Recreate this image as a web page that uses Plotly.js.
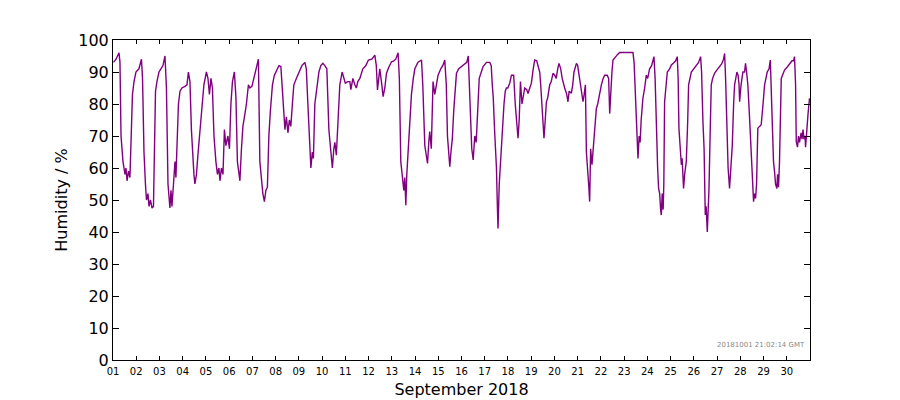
<!DOCTYPE html>
<html>
<head>
<meta charset="utf-8">
<script src="https://cdn.plot.ly/plotly-3.0.1.min.js"></script>
<style>html,body{margin:0;padding:0;background:#fff;}#chart{width:900px;height:400px;}</style>
</head>
<body>
<div id="chart"></div>
<script>
// Hours since 2018-09-01 00:00 GMT
const hours = [0.5,3.1,6.2,7.2,8.3,10.3,12.4,13.4,14.5,16.0,17.5,18.6,20.1,21.7,23.7,26.8,29.4,30.5,32.0,33.5,34.6,36.1,37.2,38.7,40.3,41.8,42.8,43.9,45.4,47.5,49.5,51.6,53.7,55.2,56.8,57.8,58.8,59.9,60.9,62.5,64.0,65.0,66.1,67.6,69.2,71.2,74.3,76.4,77.9,79.5,81.0,82.6,83.6,84.6,86.2,87.7,89.8,91.9,93.9,96.5,98.1,99.6,101.2,102.7,104.3,106.3,107.9,109.4,110.5,112.0,113.6,115.1,116.6,118.7,120.3,121.8,123.4,125.4,127.0,128.5,130.1,131.1,132.7,134.2,136.3,137.8,139.9,141.4,143.5,145.6,147.6,150.2,151.7,153.3,154.8,156.4,157.9,159.5,161.0,162.6,164.7,166.7,169.3,171.4,173.4,175.0,176.0,177.6,179.1,180.7,182.2,183.7,185.3,186.8,189.4,192.0,195.1,198.2,199.7,201.3,202.8,204.4,205.9,207.0,208.5,210.6,212.7,214.7,216.8,218.8,220.9,223.0,225.0,226.6,228.1,229.2,230.7,232.3,234.3,236.7,238.5,240.0,242.6,244.7,245.7,247.8,249.8,251.4,252.9,255.0,258.1,261.2,263.8,267.4,270.5,272.0,273.2,275.6,277.7,279.0,280.8,282.5,284.9,287.7,290.1,292.1,294.5,295.8,297.3,298.9,300.4,301.4,302.5,303.5,304.8,306.6,308.3,310.2,311.8,314.9,318.7,320.0,321.0,322.1,323.1,324.9,326.2,327.2,328.8,330.6,332.4,333.9,335.8,338.6,341.0,342.7,344.3,345.5,346.9,347.9,349.4,350.5,352.0,354.8,357.2,360.0,362.3,365.4,367.0,368.0,369.0,370.6,372.1,373.7,375.2,376.8,378.3,382.3,385.8,389.2,390.7,391.8,392.8,394.3,396.1,396.9,397.7,399.0,400.0,401.3,402.6,403.9,405.2,406.4,407.8,409.8,411.6,413.9,415.5,416.7,418.4,419.6,420.9,422.5,423.8,425.3,427.4,428.7,430.5,432.2,434.1,435.6,437.7,439.2,440.8,441.8,443.6,445.2,446.5,447.7,449.1,451.1,452.7,454.5,456.3,457.8,459.4,460.7,462.5,464.0,466.6,468.7,470.0,471.2,473.5,474.9,476.2,478.7,480.0,482.1,484.1,485.5,486.7,488.0,489.0,490.3,491.4,492.4,493.4,494.8,496.0,496.9,498.1,499.3,500.7,501.7,503.2,504.5,506.3,507.9,510.5,512.0,513.1,514.1,515.4,516.5,518.2,520.0,521.3,523.4,537.1,538.3,538.9,540.6,541.4,542.3,543.5,544.5,545.6,547.4,549.2,550.9,552.3,554.3,556.4,558.8,560.0,561.3,562.6,563.6,564.7,565.7,566.4,567.3,568.3,569.0,569.8,571.4,572.6,575.0,576.8,579.1,581.2,582.9,583.8,584.6,585.8,587.1,587.9,589.4,590.5,592.2,593.6,594.6,597.4,599.8,602.5,604.9,607.0,608.0,609.4,610.6,611.8,612.7,613.9,614.7,615.6,616.8,618.0,619.4,621.4,623.5,626.6,628.7,630.7,631.8,632.8,634.1,635.4,636.9,638.0,638.8,639.7,641.1,642.1,644.5,645.7,646.7,647.3,648.8,650.7,652.4,653.4,654.5,655.8,657.6,659.1,660.4,661.7,662.7,663.8,664.8,666.1,667.9,669.6,671.5,673.1,675.8,677.7,679.0,679.8,681.0,682.3,683.4,684.4,685.8,686.5,687.5,688.5,690.3,691.6,693.7,696.3,698.9,701.4,703.0,704.0,705.1,705.8,707.1,708.1,709.2,710.8,711.8,712.8,713.8,714.9,715.4,716.7,718.0,719.5];

const humidity = [93,94,96,93,70,62,58,60,56,59,57,70,83,87,90,91,94,88,65,55,50,52,48,50,47.5,48,70,84,87,90,91,92,95,85,55,52,47.5,53,48,55,62,57,66,80,84,85,85.5,86,90,87,72,62,58,55,58,64,72,80,86,90,88,83,88,85,70,62,58,60,56,60,58,72,67,70,66,80,87,90,82,62,58,56,66,73,77,80,86,85,85.5,88,91,94,62,57,52,49.5,53,54,70,78,86,89,91,92,91.7,85,78,72,76,71,75,73,80,86,88,90,92,93,91,80,68,60,65,63,80,86,90,92,92.7,92,91,72,64,60,66,68,64,75,86,90,88,86.5,87,87,84.5,88,86,85,87,88,91,92,93.75,94,95.3,92,84.4,91,86,82.3,85,89.6,91.5,93.2,93.5,94,96,88,62,58,53,57,48.4,58,66,75,83,88,91,93,93.75,86,73,67,65,61.4,68,71.4,66,87,83,86,89,91,92.2,93.75,86,70,64,60.4,66,69,78,89.6,91,91.7,92,93,95,88,77,66,62.5,70,68,80,88,91.7,93,93,92,86,82,71,60,50,41.1,55,60,70,76,80,84,85,85,86.5,89,89,80,74.5,69.3,75,87,80,82,85,84.5,83.3,85,86.5,91,93.75,93.5,92,90,86,75.5,69.3,75,80.7,82,86,87,89.6,89,88,91,92.7,91,88,85,83,80.7,84,83.4,86,90,92.7,92,88,84,80.7,83,86,65,57,54.7,49.5,66,61,66,68,72,78.6,80,81.8,84,86,88,89,89,88,77,85,90,93.75,94.5,95.3,95.5,96.1,96.1,93,88,72.4,68,63,70,68,75,81.8,85,89,88,91,92,94.8,88,70.3,60,53.6,52,47,45.3,52,47,55,80.7,86,90,91,92.2,92.8,93.5,94.8,88,72.4,66,61,63,53.6,58,62,74,86,90,91,92.2,93,94.8,90,74.5,66,45.3,48,40,46,53,70,86,88,89.6,90.5,91.7,92.5,94,95.8,88,70.3,60,53.6,58,64,67,80,86,90,89,86,80.7,86,90,90,92.7,90,86,75.5,65,56.7,49.5,52,50.5,55,72.4,73,73.5,80,86,90,91,93.75,86,68.2,62,58.8,55,53.6,58,54,62,88,89,90.6,91.5,92.7,93.5,93.5,94.8,86,68.2,66.5,70,68,71,69,72,69,70,66.5,74,77,81.8];

const dayLabels = ['01','02','03','04','05','06','07','08','09','10','11','12','13','14','15','16','17','18','19','20','21','22','23','24','25','26','27','28','29','30'];
const xTitle = 'September 2018';
const yTitle = 'Humidity / %';
const stamp = '20181001 21:02:14 GMT';

const base = Date.UTC(2018, 8, 1);
function fmt(ms) { return new Date(ms).toISOString().replace('T', ' ').slice(0, 19); }
const times = hours.map(h => fmt(base + h * 3600000));
const tickvals = dayLabels.map(d => '2018-09-' + d);

const trace = {
  x: times, y: humidity, type: 'scatter', mode: 'lines',
  line: {color: '#800080', width: 1.4}, hoverinfo: 'x+y'
};

const layout = {
  width: 900, height: 400,
  margin: {l: 113, r: 90, t: 40, b: 40, pad: 0},
  paper_bgcolor: '#fff', plot_bgcolor: '#fff',
  font: {family: 'DejaVu Sans', color: '#000'},
  showlegend: false,
  xaxis: {
    type: 'date', range: ['2018-09-01 00:00:00', '2018-10-01 00:00:00'],
    tickmode: 'array', tickvals: tickvals, ticktext: dayLabels,
    ticks: 'inside', ticklen: 4, tickcolor: '#000', tickwidth: 1,
    showline: true, linecolor: '#000', linewidth: 1, mirror: 'ticks',
    showgrid: false, zeroline: false, ticklabelstandoff: 2,
    tickfont: {size: 10, family: 'DejaVu Sans'},
    title: {text: xTitle, font: {size: 16, family: 'DejaVu Sans'}, standoff: 7}
  },
  yaxis: {
    range: [0, 100], dtick: 10, tick0: 0,
    ticks: 'inside', ticklen: 6, tickcolor: '#000', tickwidth: 1,
    showline: true, linecolor: '#000', linewidth: 1, mirror: 'ticks',
    showgrid: false, zeroline: false,
    tickfont: {size: 16, family: 'DejaVu Sans'},
    title: {text: yTitle, font: {size: 16, family: 'DejaVu Sans'}, standoff: 6}
  },
  annotations: [{
    text: stamp, xref: 'paper', yref: 'paper', x: 0.995, y: 0.047,
    xanchor: 'right', yanchor: 'middle', showarrow: false,
    font: {size: 7, color: '#888', family: 'DejaVu Sans'}
  }]
};

Plotly.newPlot('chart', [trace], layout, {displayModeBar: false, staticPlot: true});
</script>
</body>
</html>
